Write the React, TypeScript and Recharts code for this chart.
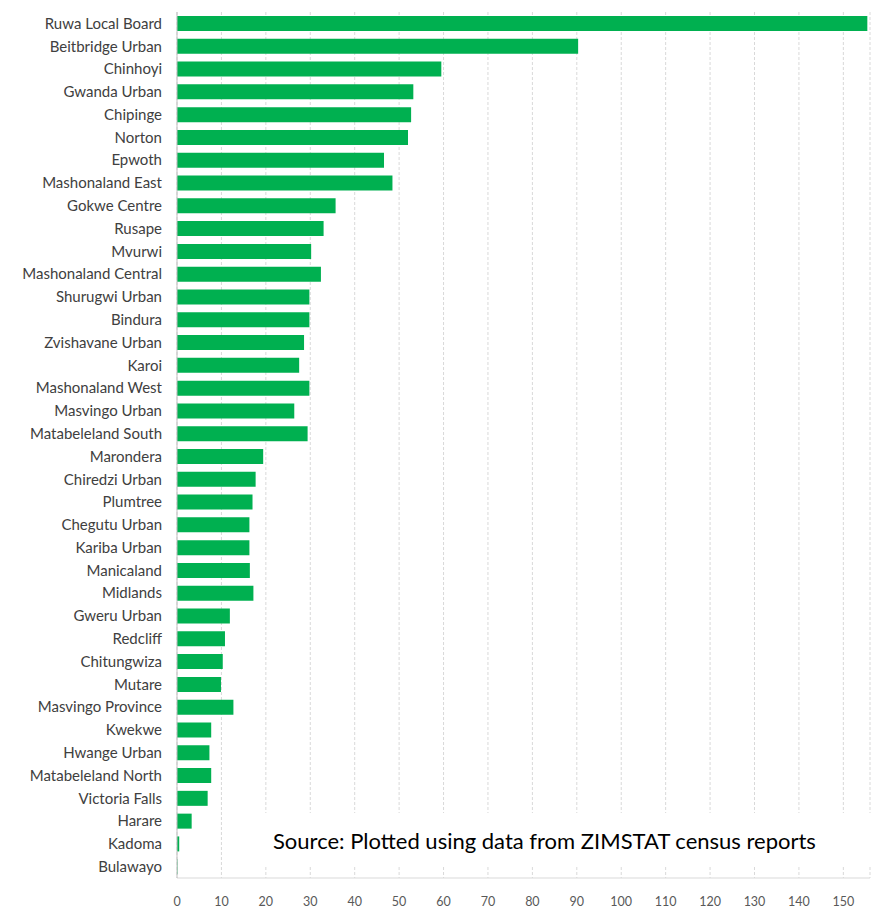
import React from 'react';
import { BarChart, Bar, XAxis, YAxis, CartesianGrid } from 'recharts';

const places = [
  'Ruwa Local Board', 'Beitbridge Urban ', 'Chinhoyi', 'Gwanda Urban', 'Chipinge', 'Norton',
  'Epwoth', 'Mashonaland East', 'Gokwe Centre', 'Rusape', 'Mvurwi', 'Mashonaland Central',
  'Shurugwi Urban', 'Bindura', 'Zvishavane Urban', 'Karoi', 'Mashonaland West', 'Masvingo Urban ',
  'Matabeleland South', 'Marondera', 'Chiredzi Urban', 'Plumtree', 'Chegutu Urban', 'Kariba Urban',
  'Manicaland', 'Midlands', 'Gweru Urban ', 'Redcliff', 'Chitungwiza', 'Mutare',
  'Masvingo Province', 'Kwekwe', 'Hwange Urban', 'Matabeleland North', 'Victoria Falls', 'Harare',
  'Kadoma', 'Bulawayo',
];

const growth = [
  155.4, 90.3, 59.5, 53.2, 52.7, 52.0,
  46.6, 48.5, 35.7, 33.0, 30.2, 32.4,
  29.8, 29.8, 28.6, 27.5, 29.8, 26.4,
  29.4, 19.4, 17.7, 17.0, 16.3, 16.3,
  16.4, 17.2, 11.9, 10.8, 10.3, 9.9,
  12.7, 7.7, 7.3, 7.7, 6.9, 3.3,
  0.5, 0.1,
];

const xTicks = [0, 10, 20, 30, 40, 50, 60, 70, 80, 90, 100, 110, 120, 130, 140, 150];

const sourceNote = 'Source: Plotted using data from ZIMSTAT census reports';

const data = places.map((name, i) => ({ name, value: growth[i] }));

const labelFont = 'Lato, "Open Sans", sans-serif';

export default function App() {
  return (
    <div style={{ position: 'absolute', left: 0, top: 0, width: 875, height: 910, background: '#fff' }}>
      <BarChart
        width={875}
        height={910}
        data={data}
        layout="vertical"
        margin={{ top: 12, right: 5, left: 0, bottom: 0 }}
        barSize={15}
      >
        <CartesianGrid horizontal={false} stroke="#d9d9d9" strokeDasharray="3 2" />
        <XAxis
          type="number"
          domain={[0, 156]}
          ticks={xTicks}
          allowDataOverflow
          height={32}
          tickLine={false}
          tickSize={0}
          tickMargin={19}
          axisLine={{ stroke: '#d9d9d9' }}
          tick={{ fill: '#595959', fontSize: 12.5, fontFamily: labelFont }}
        />
        <YAxis
          type="category"
          dataKey="name"
          width={177}
          interval={0}
          tickLine={false}
          tickSize={0}
          tickMargin={15}
          axisLine={{ stroke: '#bfbfbf' }}
          tick={{ fill: '#404040', fontSize: 15, fontFamily: labelFont }}
        />
        <Bar dataKey="value" fill="#00b050" isAnimationActive={false} />
      </BarChart>
      <div
        style={{
          position: 'absolute',
          left: 255,
          top: 813,
          width: 620,
          height: 54,
          background: '#fff',
          display: 'flex',
          alignItems: 'center',
          paddingLeft: 18,
          boxSizing: 'border-box',
          fontFamily: labelFont,
          fontSize: 22,
          color: '#000',
        }}
      >
        {sourceNote}
      </div>
    </div>
  );
}
